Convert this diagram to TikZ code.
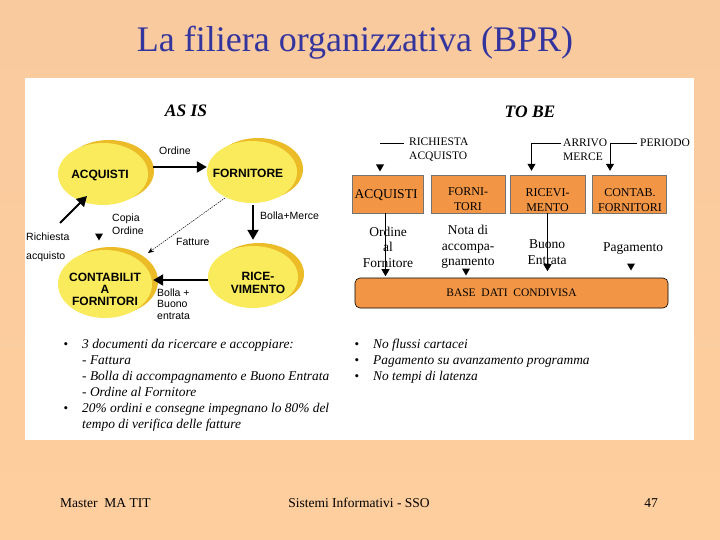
\documentclass[tikz,border=0pt]{standalone}
\usepackage{fontspec}
\setmainfont{Liberation Serif}
\newfontfamily\arialfont{Liberation Sans}
\usetikzlibrary{shapes.geometric,arrows.meta,calc}
\definecolor{bgtop}{RGB}{248,202,158}
\definecolor{bgbot}{RGB}{255,206,158}
\definecolor{yel}{RGB}{250,235,92}
\definecolor{yelsh}{RGB}{236,188,40}
\definecolor{orng}{RGB}{242,150,70}
\definecolor{titleblue}{RGB}{52,52,158}
\tikzset{
  dtri/.pic={\fill (-4,-3.5) -- (4,-3.5) -- (0,3.5) -- cycle;},
}
\begin{document}
\begin{tikzpicture}[x=1pt,y=-1pt,
  ell/.style={ellipse, fill=yel, minimum width=90pt, minimum height=62pt, inner sep=0pt},
  ellsh/.style={ellipse, fill=yelsh, minimum width=90pt, minimum height=62pt, inner sep=0pt},
  elab/.style={font=\arialfont\bfseries\fontsize{12}{13}\selectfont, align=center, inner sep=0pt},
  slab/.style={font=\arialfont\fontsize{10.5}{13.5}\selectfont, align=left, inner sep=0pt},
  fatarrow/.style={line width=2pt, -{Triangle[length=10pt,width=11pt]}},
  dotarrow/.style={line width=0.5pt, dash pattern=on 1.5pt off 1pt, -{Stealth[length=6pt,width=5pt]}},
  tarrow/.style={line width=0.8pt, -{Triangle[length=7pt,width=8pt]}},
  tbox/.style={fill=orng, draw=black!55, line width=0.4pt, minimum height=38pt, inner sep=0pt},
  tboxlab/.style={font=\fontsize{12}{15}\selectfont, align=center, inner sep=0pt},
  tlab/.style={font=\fontsize{13.5}{15.5}\selectfont, align=center, inner sep=0pt},
  toplab/.style={font=\fontsize{11.5}{14}\selectfont, align=left, inner sep=0pt},
  heading/.style={font=\bfseries\itshape\fontsize{17.5}{17.5}\selectfont, inner sep=0pt},
  bul/.style={font=\itshape\fontsize{13.4}{16}\selectfont, align=left, inner sep=0pt, anchor=north west},
  bdot/.style={font=\fontsize{13}{13}\selectfont, inner sep=0pt},
  foot/.style={font=\fontsize{13.5}{14}\selectfont, inner sep=0pt},
]
\shade[top color=bgtop,bottom color=bgbot] (0,0) rectangle (720,540);
\useasboundingbox (0,0) rectangle (720,540);
\fill[white] (25,78) rectangle (694,440);

% title
\node[font=\fontsize{36}{36}\selectfont, text=titleblue, anchor=base, inner sep=0pt] (title) at (355,52) {La filiera organizzativa (BPR)};

% ---------------- AS IS ----------------
\node[heading] (asis) at (186,111) {AS IS};

\node[ellsh] (acqsh) at (109,171) {};
\node[ell] (acq) at (103,174) {};
\node[ellsh] (fornsh) at (258,169) {};
\node[ell] (forn) at (252,172) {};
\node[ellsh] (ricesh) at (259,274) {};
\node[ell] (rice) at (253,277) {};
\node[ellsh, minimum width=94pt, minimum height=68pt] (contsh) at (111,281) {};
\node[ell, minimum width=94pt, minimum height=68pt] (cont) at (105,284) {};

\node[elab] (acqt) at (100,175) {ACQUISTI};
\node[elab] (fornt) at (248,173) {FORNITORE};
\node[elab] (ricet) at (258,283) {RICE-\\VIMENTO};
\node[elab, font=\arialfont\bfseries\fontsize{12}{12}\selectfont] (contt) at (105,289) {CONTABILIT\\A\\FORNITORI};

\draw[fatarrow] ($(acq.east)+(5,-7)$) -- ($(forn.west)+(0,-5)$);
\draw[fatarrow] ($(forn.south)+(1,2)$) -- ($(rice.north)+(0,-6)$);
\draw[fatarrow] ($(rice.west)+(0,3)$) -- ($(cont.east)+(1,-4)$);
\coordinate (rq) at (60,223);
\draw[fatarrow] (rq) -- ($(acq.center)+(-16,22)$);
\draw[dotarrow] ($(forn.center)+(-27,26)$) -- ($(cont.center)+(43,-31)$);

\node[slab, anchor=west] (lordine) at (159,151) {Ordine};
\node[slab, anchor=west] (lbm) at (260,216) {Bolla+Merce};
\node[slab, anchor=west] (lcopia) at (112,224) {Copia\\Ordine};
\node[slab, anchor=west] (lfatt) at (176,242) {Fatture};
\node[slab, anchor=west] (lrich) at (26,237) {Richiesta};
\node[slab, anchor=west] (lacq) at (26,257) {acquisto};
\node[slab, anchor=west, font=\arialfont\fontsize{10.5}{11.5}\selectfont] (lbb) at (157,304) {Bolla +\\Buono\\entrata};
\pic at (99,237) {dtri};

% ---------------- TO BE ----------------
\node[heading] (tobe) at (530,112) {TO BE};

\node[tbox, minimum width=71pt] (tacq) at (387.5,194) {};
\node[tbox, minimum width=74pt] (tforn) at (468,194) {};
\node[tbox, minimum width=75pt] (tric) at (547.5,194) {};
\node[tbox, minimum width=74pt] (tcon) at (629,194) {};
\node[tboxlab, font=\fontsize{13.5}{13.5}\selectfont] (tacqt) at (386,195) {ACQUISTI};
\node[tboxlab] (tfornt) at (468,199) {FORNI-\\TORI};
\node[tboxlab] (trict) at (547.5,200) {RICEVI-\\MENTO};
\node[tboxlab] (tcont) at (630,200) {CONTAB.\\FORNITORI};

\node[fill=orng, draw=black, line width=0.6pt, rounded corners=5pt, minimum width=313pt, minimum height=30pt, inner sep=0pt, font=\fontsize{11.5}{12}\selectfont] (base) at (511.5,293) {BASE\ \ DATI\ \ CONDIVISA};

\node[toplab, anchor=west] (rich) at (409,150) {RICHIESTA\\ACQUISTO};
\node[toplab, anchor=west] (arr) at (563,150) {ARRIVO\\MERCE};
\node[toplab, anchor=west] (per) at (640,143) {PERIODO};

\draw[line width=0.8pt] ($(rich.west)+(-5,-7)$) -- ++(-24,0);
\pic at (380,168) {dtri};
\draw[tarrow] ($(arr.west)+(-2,-7)$) -| ($(tric.north)+(-16,-4)$);
\draw[tarrow] ($(per.west)+(-3,0)$) -| ($(tcon.north)+(-19,-4)$);

\node[tlab] (lofo) at (388,247) {Ordine\\al\\Fornitore};
\node[tlab] (lnota) at (468,247) {Nota di\\accompa-\\gnamento};
\node[tlab, font=\fontsize{13.5}{16}\selectfont] (lbuono) at (547,252) {Buono\\Entrata};
\node[tlab] (lpag) at (633,249) {Pagamento};

\coordinate (a1) at ($(tacq.south)+(-2,0)$);
\draw[tarrow] (a1) -- ($(a1)+(0,63)$);
\draw[tarrow] (tric.south) -- ($(tric.south)+(0,58)$);
\pic at (466,272) {dtri};
\pic at (631,267) {dtri};

% ---------------- bullets ----------------
\node[bul] (bl1) at (82,339) {3 documenti da ricercare e accoppiare:\\- Fattura\\- Bolla di accompagnamento e Buono Entrata\\- Ordine al Fornitore\\20\% ordini e consegne impegnano lo 80\% del\\tempo di verifica delle fatture};
\node[bdot] (b1) at (66,346) {•};
\node[bdot] (b2) at (66,410) {•};
\node[bul] (bl2) at (373,339) {No flussi cartacei\\Pagamento su avanzamento programma\\No tempi di latenza};
\node[bdot] (b3) at (357,346) {•};
\node[bdot] (b4) at (357,362) {•};
\node[bdot] (b5) at (357,378) {•};

% ---------------- footer ----------------
\node[foot, anchor=west] (f1) at (60,503) {Master\ \ MA TIT};
\node[foot] (f2) at (359,503) {Sistemi Informativi - SSO};
\node[foot] (f3) at (651,503) {47};
\end{tikzpicture}
\end{document}
